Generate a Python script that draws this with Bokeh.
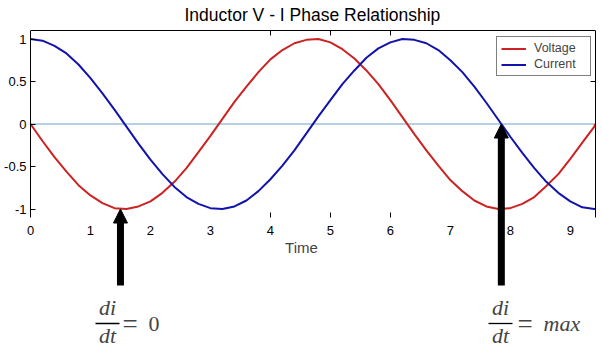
from bokeh.plotting import figure
from bokeh.models import (Arrow, NormalHead, Label, LinearAxis, FixedTicker,
                          Range1d, Legend, LegendItem)
from bokeh.embed import file_html
from bokeh.resources import INLINE

# ---------------- data ----------------
time = [0.0, 0.2, 0.4, 0.6, 0.8, 1.0, 1.2, 1.4, 1.6, 1.8,
        2.0, 2.2, 2.4, 2.6, 2.8, 3.0, 3.2, 3.4, 3.6, 3.8,
        4.0, 4.2, 4.4, 4.6, 4.8, 5.0, 5.2, 5.4, 5.6, 5.8,
        6.0, 6.2, 6.4, 6.6, 6.8, 7.0, 7.2, 7.4, 7.6, 7.8,
        8.0, 8.2, 8.4, 8.6, 8.8, 9.0, 9.2, 9.4, 9.42]
voltage = [0.00, -0.20, -0.39, -0.56, -0.72, -0.84, -0.93, -0.99, -1.00, -0.97,
           -0.91, -0.81, -0.68, -0.52, -0.33, -0.14, 0.06, 0.26, 0.44, 0.61,
           0.76, 0.87, 0.95, 0.99, 1.00, 0.96, 0.88, 0.77, 0.63, 0.47,
           0.28, 0.08, -0.12, -0.31, -0.49, -0.66, -0.79, -0.90, -0.97, -1.00,
           -0.99, -0.94, -0.86, -0.73, -0.59, -0.41, -0.22, -0.03, 0.00]
current = [1.00, 0.98, 0.92, 0.83, 0.70, 0.54, 0.36, 0.17, -0.03, -0.23,
           -0.42, -0.59, -0.74, -0.86, -0.94, -0.99, -1.00, -0.97, -0.90, -0.79,
           -0.65, -0.49, -0.31, -0.11, 0.09, 0.28, 0.47, 0.63, 0.78, 0.89,
           0.96, 1.00, 0.99, 0.95, 0.87, 0.75, 0.61, 0.44, 0.25, 0.05,
           -0.15, -0.34, -0.52, -0.68, -0.81, -0.91, -0.98, -1.00, -1.00]
series_names = ["Voltage", "Current"]
x_ticks = [0, 1, 2, 3, 4, 5, 6, 7, 8, 9]
x_tick_labels = ["0", "1", "2", "3", "4", "5", "6", "7", "8", "9"]
inner_x_ticks = [4, 5, 6]
y_ticks = [-1, -0.5, 0, 0.5, 1]
y_tick_labels = ["-1", "-0.5", "0", "0.5", "1"]
right_ticks = [0.5]
zero_level = 0.0
arrow_times = [1.5, 7.85]
arrow_targets = [-1.0, 0.0]
title_text = "Inductor V - I Phase Relationship"
x_label = "Time"
frac_top = "di"
frac_bottom = "dt"
frac_values = ["0", "max"]

# ---------------- layout ----------------
W, H = 602, 351
BOX_L, BOX_R, BT = 30, 595, 30      # box of the axes, in page pixels
T_LO, T_HI = 0.0, 9.42               # time extent of the box
AX_LO, AX_HI = -1.1, 1.1             # value extent of the box
PX_PER_X = (BOX_R - BOX_L) / (T_HI - T_LO)
PX_PER_Y = 85.0
X0 = T_LO - BOX_L / PX_PER_X
X1 = T_HI + (W - BOX_R) / PX_PER_X
Y0 = AX_HI - (H - BT) / PX_PER_Y
SANS = "Liberation Sans"
SERIF = "Liberation Serif"


def cx(px):
    return X0 + px / PX_PER_X


def cy(py):
    return AX_HI - (py - BT) / PX_PER_Y


p = figure(width=W, height=H, output_backend="svg", toolbar_location=None,
           x_range=Range1d(X0, X1), y_range=Range1d(Y0, AX_HI),
           min_border_left=0, min_border_right=0, min_border_top=BT,
           min_border_bottom=0, title=title_text, x_axis_location=None,
           y_axis_location=None)
p.outline_line_color = None
p.background_fill_color = "white"
p.border_fill_color = "white"
p.xgrid.visible = False
p.ygrid.visible = False

p.title.align = "left"
p.title.offset = 184
p.title.vertical_align = "top"
p.title.text_font = SANS
p.title.text_font_size = "17.5px"
p.title.text_font_style = "normal"
p.title.text_color = "black"
p.title.standoff = 8

# bottom axis: labels only, sits at the lower edge of the box
xa = LinearAxis(ticker=FixedTicker(ticks=x_ticks), fixed_location=AX_LO,
                major_label_overrides={t: s for t, s in zip(x_ticks, x_tick_labels)},
                axis_line_color=None, major_tick_line_color=None,
                minor_tick_line_color=None, major_label_text_font=SANS,
                major_label_text_font_size="13px", major_label_text_color="black",
                major_label_standoff=2, axis_label=x_label, axis_label_text_font=SANS,
                axis_label_text_font_size="15px", axis_label_text_font_style="normal",
                axis_label_standoff=1)
p.add_layout(xa, "below")

# inner ticks on the lower edge
xt = LinearAxis(ticker=FixedTicker(ticks=inner_x_ticks), fixed_location=AX_LO,
                major_label_overrides={t: "" for t in inner_x_ticks},
                axis_line_color=None, major_tick_line_color="black",
                major_tick_in=5, major_tick_out=0, minor_tick_line_color=None,
                major_label_standoff=0)
p.add_layout(xt, "below")

ya = LinearAxis(ticker=FixedTicker(ticks=y_ticks), bounds=(AX_LO, AX_HI),
                fixed_location=T_LO,
                major_label_overrides={t: s for t, s in zip(y_ticks, y_tick_labels)},
                axis_line_color="black", major_tick_line_color="black",
                major_tick_in=5, major_tick_out=0, minor_tick_line_color=None,
                major_label_text_font=SANS, major_label_text_font_size="13px",
                major_label_text_color="black", major_label_standoff=4)
p.add_layout(ya, "left")

top = LinearAxis(ticker=FixedTicker(ticks=inner_x_ticks), bounds=(T_LO, T_HI),
                 axis_line_color="black",
                 major_label_overrides={t: "" for t in inner_x_ticks},
                 major_tick_in=5, major_tick_out=0, minor_tick_line_color=None,
                 major_label_standoff=0)
p.add_layout(top, "above")

right = LinearAxis(ticker=FixedTicker(ticks=right_ticks), bounds=(AX_LO, AX_HI),
                   fixed_location=T_HI,
                   major_label_overrides={t: "" for t in right_ticks},
                   axis_line_color="black", major_tick_in=5, major_tick_out=0,
                   minor_tick_line_color=None, major_label_standoff=0)
p.add_layout(right, "right")

# zero reference line across the box
p.segment(x0=[time[0]], x1=[time[-1]], y0=[zero_level], y1=[zero_level],
          line_color="#6d9ec6", line_width=1)

rv = p.line(time, voltage, line_color="#cc2222", line_width=2)
rc = p.line(time, current, line_color="#1212ad", line_width=2)

legend = Legend(items=[LegendItem(label=series_names[0], renderers=[rv]),
                       LegendItem(label=series_names[1], renderers=[rc])],
                location=(496, 275), border_line_color="black",
                border_line_width=1, background_fill_color="white",
                background_fill_alpha=1.0, padding=4, spacing=2, margin=0,
                glyph_width=25, glyph_height=13, label_height=13, label_width=52,
                label_standoff=8, label_text_font=SANS, label_text_font_size="12.5px")
p.add_layout(legend)

# arrows pointing at the annotated points
for t, yv in zip(arrow_times, arrow_targets):
    p.add_layout(Arrow(end=NormalHead(size=14, fill_color="black", line_color="black"),
                       x_start=t, y_start=cy(285), x_end=t, y_end=yv,
                       line_color="black", line_width=7))

# derivative annotations: di/dt = 0 and di/dt = max
frac_centers = [107, 500]
eq_left = [122, 517]
val_left = [148, 543]
val_styles = ["normal", "italic"]
for c, el, vl, val, st in zip(frac_centers, eq_left, val_left, frac_values, val_styles):
    p.add_layout(Label(x=cx(c), y=cy(307), text=frac_top, text_font=SERIF,
                       text_font_size="22px", text_font_style="italic",
                       text_align="center", text_baseline="middle"))
    p.add_layout(Label(x=cx(c), y=cy(335), text=frac_bottom, text_font=SERIF,
                       text_font_size="22px", text_font_style="italic",
                       text_align="center", text_baseline="middle"))
    p.add_layout(Arrow(end=None, x_start=cx(c - 12), x_end=cx(c + 12),
                       y_start=cy(323), y_end=cy(323), line_color="black",
                       line_width=1.3))
    p.add_layout(Label(x=cx(el), y=cy(323), text="=", text_font=SERIF,
                       text_font_size="27px", text_align="left",
                       text_baseline="middle"))
    p.add_layout(Label(x=cx(vl), y=cy(323), text=val, text_font=SERIF,
                       text_font_size="22px", text_font_style=st, text_align="left",
                       text_baseline="middle"))

open("out.html", "w").write(file_html(p, INLINE))
